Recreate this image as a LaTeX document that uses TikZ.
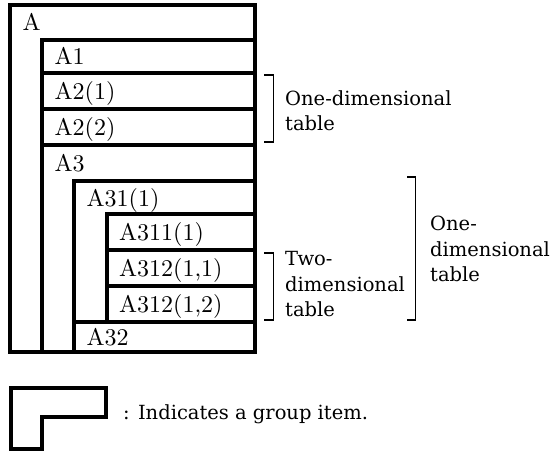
\documentclass[tikz,border=0pt]{standalone}
\usepackage{fontspec}
\usepackage{tikz}

\newfontfamily\boxfont{lmroman10-regular.otf}
\newfontfamily\notefont{DejaVu Serif}

\begin{document}
\begin{tikzpicture}[x=1pt, y=-1pt,
    box/.style={line width=4pt, line join=miter},
    bracket/.style={line width=1.6pt},
    lbl/.style={anchor=base west, inner sep=0pt, font=\boxfont\fontsize{24}{28}\selectfont},
    note/.style={anchor=base west, inner sep=0pt, align=left, font=\notefont\fontsize{19.5}{25.5}\selectfont}]
      \useasboundingbox (0,0) rectangle (550,451);

      % group items (L-shaped)
      \draw[box] (10,4.5) -- (254.5,4.5) -- (254.5,39.5) -- (42,39.5) -- (42,352) -- (10,352) -- cycle;
      \draw[box] (42,144.5) -- (254.5,144.5) -- (254.5,181) -- (74,181) -- (74,352) -- (42,352) -- cycle;
      \draw[box] (74,181) -- (254.5,181) -- (254.5,214) -- (106.5,214) -- (106.5,322) -- (74,322) -- cycle;

      % elementary items
      \draw[box] (42,39.5) rectangle (254.5,73);
      \draw[box] (42,73) rectangle (254.5,109);
      \draw[box] (42,109) rectangle (254.5,144.5);
      \draw[box] (106.5,214) rectangle (254.5,250);
      \draw[box] (106.5,250) rectangle (254.5,286);
      \draw[box] (106.5,286) rectangle (254.5,322);
      \draw[box] (74,322) rectangle (254.5,352);

      \node[lbl] (a)     at (22.5,30)   {A};
      \node[lbl] (a1)    at (54.5,64.5) {A1};
      \node[lbl] (a21)   at (54.5,99)   {A2(1)};
      \node[lbl] (a22)   at (54.5,135)  {A2(2)};
      \node[lbl] (a3)    at (54.5,171)  {A3};
      \node[lbl] (a31)   at (86.5,206)  {A31(1)};
      \node[lbl] (a311)  at (119,240)   {A311(1)};
      \node[lbl] (a3121) at (119,276)   {A312(1,1)};
      \node[lbl] (a3122) at (119,312)   {A312(1,2)};
      \node[lbl] (a32)   at (86.5,345)  {A32};

      % brackets
      \draw[bracket] (264,75) -- (273.5,75) -- (273.5,142) -- (264,142);
      \draw[bracket] (264,253) -- (273.5,253) -- (273.5,320) -- (264,320);
      \draw[bracket] (407,177) -- (415.5,177) -- (415.5,320) -- (407,320);

      % base of a multi-line note is its last line
      \node[note] (one1) at (285,130.5) {One-dimensional\\table};
      \node[note] (two)  at (285,316.5) {Two-\\dimensional\\table};
      \node[note] (one2) at (430,281.5) {One-\\dimensional\\table};

      % legend
      \draw[box] (10.5,388) -- (105.5,388) -- (105.5,417) -- (42,417) -- (42,449) -- (10.5,449) -- cycle;
      \node[note] (key) at (123,419) {: Indicates a group item.};
    \end{tikzpicture}
\end{document}
